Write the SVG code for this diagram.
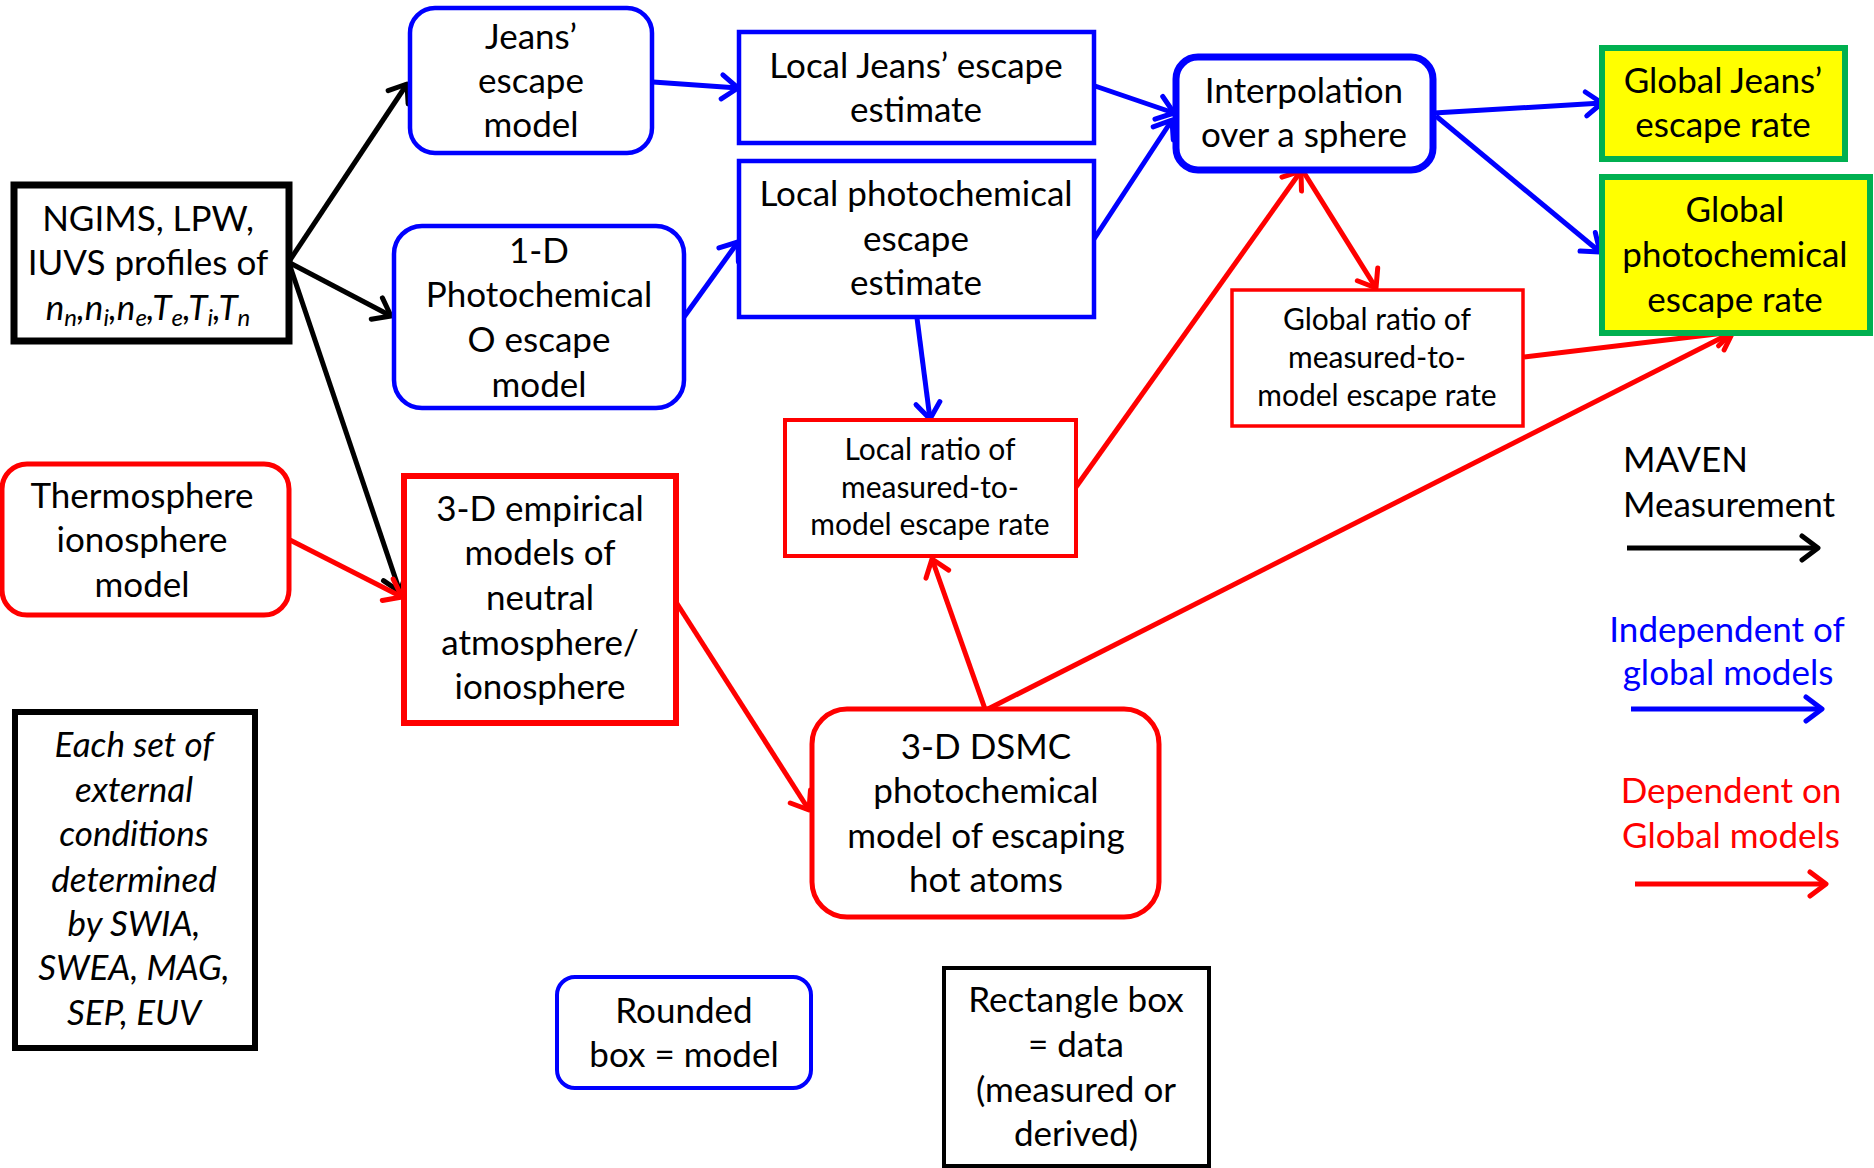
<svg xmlns="http://www.w3.org/2000/svg" width="1874" height="1168" viewBox="0 0 1874 1168">
  <style>
    .t { font-family: Lato, "Liberation Sans", sans-serif; font-size: 35px; text-anchor: middle; fill: #000; }
    .s { font-size: 30px; }
    .i { font-style: italic; }
    .sub { font-size: 24px; }
    .l { text-anchor: start; }
    .box { fill: #fff; }
    .blue { stroke: #0000FF; }
    .red { stroke: #FF0000; }
    .blk { stroke: #000; }
    .goal { fill: #FFFF00; stroke: #00B050; stroke-width: 6; }
    .c { fill: none; stroke-width: 5; }
    .cb { stroke: #000; marker-end: url(#ah-k); }
    .cu { stroke: #0000FF; marker-end: url(#ah-b); }
    .cr { stroke: #FF0000; marker-end: url(#ah-r); }
  </style>
  <defs>
    <marker id="ah-k" viewBox="-18 -16 22 32" refX="0" refY="0" markerWidth="22" markerHeight="32" markerUnits="userSpaceOnUse" orient="auto" overflow="visible">
      <path d="M-16,-12 L0,0 L-16,12" fill="none" stroke="#000" stroke-width="5" stroke-linecap="round" stroke-linejoin="round"/>
    </marker>
    <marker id="ah-b" viewBox="-18 -16 22 32" refX="0" refY="0" markerWidth="22" markerHeight="32" markerUnits="userSpaceOnUse" orient="auto" overflow="visible">
      <path d="M-16,-12 L0,0 L-16,12" fill="none" stroke="#0000FF" stroke-width="5" stroke-linecap="round" stroke-linejoin="round"/>
    </marker>
    <marker id="ah-r" viewBox="-18 -16 22 32" refX="0" refY="0" markerWidth="22" markerHeight="32" markerUnits="userSpaceOnUse" orient="auto" overflow="visible">
      <path d="M-16,-12 L0,0 L-16,12" fill="none" stroke="#FF0000" stroke-width="5" stroke-linecap="round" stroke-linejoin="round"/>
    </marker>
  </defs>

  <rect width="1874" height="1168" fill="#fff"/>

  <!-- connectors -->
  <g id="connectors" class="c">
    <!-- MAVEN measurements -->
    <line class="cb" x1="290" y1="260" x2="407" y2="84"/>
    <line class="cb" x1="290" y1="263" x2="391" y2="316"/>
    <line class="cb" x1="290" y1="266" x2="400" y2="592"/>
    <!-- independent of global models -->
    <line class="cu" x1="653" y1="82" x2="738" y2="88"/>
    <line class="cu" x1="684" y1="317" x2="738" y2="242"/>
    <line class="cu" x1="1095" y1="86" x2="1174" y2="113"/>
    <line class="cu" x1="1094" y1="239" x2="1172" y2="120"/>
    <line class="cu" x1="917" y1="318" x2="930" y2="419"/>
    <line class="cu" x1="1434" y1="113" x2="1602" y2="103"/>
    <line class="cu" x1="1436" y1="116" x2="1600" y2="252"/>
    <!-- dependent on global models -->
    <line class="cr" x1="290" y1="540" x2="402" y2="597"/>
    <line class="cr" x1="676" y1="602" x2="809" y2="810"/>
    <line class="cr" x1="985" y1="709" x2="932" y2="559"/>
    <line class="cr" x1="988" y1="709" x2="1733" y2="332"/>
    <line class="cr" x1="1076" y1="487" x2="1301" y2="171"/>
    <line class="cr" x1="1303" y1="171" x2="1376" y2="288"/>
    <line class="cr" x1="1524" y1="357" x2="1733" y2="332"/>
  </g>

  <g id="ngims">
    <rect class="box blk" x="14" y="185" width="275" height="156" stroke-width="7"/>
    <text class="t" x="148" y="231">NGIMS, LPW,</text>
    <text class="t" x="148" y="275">IUVS profiles of</text>
    <text class="t i" x="148" y="320">n<tspan class="sub" dy="6">n</tspan><tspan dy="-6">,n</tspan><tspan class="sub" dy="6">i</tspan><tspan dy="-6">,n</tspan><tspan class="sub" dy="6">e</tspan><tspan dy="-6">,T</tspan><tspan class="sub" dy="6">e</tspan><tspan dy="-6">,T</tspan><tspan class="sub" dy="6">i</tspan><tspan dy="-6">,T</tspan><tspan class="sub" dy="6">n</tspan></text>
  </g>

  <g id="jeans-model">
    <rect class="box blue" x="410" y="8" width="242" height="145" rx="25" stroke-width="4.5"/>
    <text class="t" x="531" y="49">Jeans’</text>
    <text class="t" x="531" y="93">escape</text>
    <text class="t" x="531" y="137">model</text>
  </g>

  <g id="photochem-1d">
    <rect class="box blue" x="394" y="226" width="290" height="182" rx="28" stroke-width="4.5"/>
    <text class="t" x="539" y="263">1-D</text>
    <text class="t" x="539" y="307">Photochemical</text>
    <text class="t" x="539" y="352">O escape</text>
    <text class="t" x="539" y="397">model</text>
  </g>

  <g id="thermosphere">
    <rect class="box red" x="2" y="464" width="287" height="151" rx="25" stroke-width="5"/>
    <text class="t" x="142" y="508">Thermosphere</text>
    <text class="t" x="142" y="552">ionosphere</text>
    <text class="t" x="142" y="597">model</text>
  </g>

  <g id="empirical-3d">
    <rect class="box red" x="404" y="476" width="272" height="247" stroke-width="6"/>
    <text class="t" x="540" y="521">3-D empirical</text>
    <text class="t" x="540" y="565">models of</text>
    <text class="t" x="540" y="610">neutral</text>
    <text class="t" x="540" y="655">atmosphere/</text>
    <text class="t" x="540" y="699">ionosphere</text>
  </g>

  <g id="local-jeans">
    <rect class="box blue" x="739" y="32" width="355" height="111" stroke-width="4.5"/>
    <text class="t" x="916" y="78">Local Jeans’ escape</text>
    <text class="t" x="916" y="122">estimate</text>
  </g>

  <g id="local-photochem">
    <rect class="box blue" x="739" y="161" width="355" height="156" stroke-width="4.5"/>
    <text class="t" x="916" y="206">Local photochemical</text>
    <text class="t" x="916" y="251">escape</text>
    <text class="t" x="916" y="295">estimate</text>
  </g>

  <g id="local-ratio">
    <rect class="box red" x="785" y="420" width="291" height="136" stroke-width="4"/>
    <text class="t s" x="930" y="460">Local ratio of</text>
    <text class="t s" x="930" y="498">measured-to-</text>
    <text class="t s" x="930" y="535">model escape rate</text>
  </g>

  <g id="dsmc">
    <rect class="box red" x="812" y="709" width="347" height="208" rx="35" stroke-width="5"/>
    <text class="t" x="986" y="759">3-D DSMC</text>
    <text class="t" x="986" y="803">photochemical</text>
    <text class="t" x="986" y="848">model of escaping</text>
    <text class="t" x="986" y="892">hot atoms</text>
  </g>

  <g id="interpolation">
    <rect class="box blue" x="1176" y="57" width="257" height="113" rx="22" stroke-width="7"/>
    <text class="t" x="1304" y="103">Interpolation</text>
    <text class="t" x="1304" y="147">over a sphere</text>
  </g>

  <g id="global-ratio">
    <rect class="box red" x="1232" y="290" width="291" height="136" stroke-width="3.5"/>
    <text class="t s" x="1377" y="330">Global ratio of</text>
    <text class="t s" x="1377" y="368">measured-to-</text>
    <text class="t s" x="1377" y="406">model escape rate</text>
  </g>

  <g id="global-jeans">
    <rect class="goal" x="1602" y="48" width="243" height="111"/>
    <text class="t" x="1723" y="93">Global Jeans’</text>
    <text class="t" x="1723" y="137">escape rate</text>
  </g>

  <g id="global-photochem">
    <rect class="goal" x="1602" y="177" width="268" height="156"/>
    <text class="t" x="1735" y="222">Global</text>
    <text class="t" x="1735" y="267">photochemical</text>
    <text class="t" x="1735" y="312">escape rate</text>
  </g>

  <g id="external-conditions">
    <rect class="box blk" x="15" y="712" width="240" height="336" stroke-width="6"/>
    <text class="t i" x="134" y="757">Each set of</text>
    <text class="t i" x="134" y="802">external</text>
    <text class="t i" x="134" y="846">conditions</text>
    <text class="t i" x="134" y="892">determined</text>
    <text class="t i" x="134" y="936">by SWIA,</text>
    <text class="t i" x="134" y="980">SWEA, MAG,</text>
    <text class="t i" x="134" y="1025">SEP, EUV</text>
  </g>

  <!-- key -->
  <g id="key-model">
    <rect class="box blue" x="557" y="977" width="254" height="111" rx="18" stroke-width="4"/>
    <text class="t" x="684" y="1023">Rounded</text>
    <text class="t" x="684" y="1067">box = model</text>
  </g>

  <g id="key-data">
    <rect class="box blk" x="944" y="968" width="265" height="198" stroke-width="4"/>
    <text class="t" x="1076" y="1012">Rectangle box</text>
    <text class="t" x="1076" y="1057">= data</text>
    <text class="t" x="1076" y="1102">(measured or</text>
    <text class="t" x="1076" y="1146">derived)</text>
  </g>

  <g id="key-arrows" class="c">
    <text class="t l" x="1623" y="472" stroke="none">MAVEN</text>
    <text class="t l" x="1623" y="517" stroke="none">Measurement</text>
    <line class="cb" x1="1627" y1="548" x2="1818" y2="548"/>
    <text class="t" x="1727" y="642" fill="#0000FF" stroke="none" style="fill:#0000FF">Independent of</text>
    <text class="t" x="1728" y="685" stroke="none" style="fill:#0000FF">global models</text>
    <line class="cu" x1="1631" y1="709" x2="1822" y2="709"/>
    <text class="t" x="1731" y="803" stroke="none" style="fill:#FF0000">Dependent on</text>
    <text class="t" x="1731" y="848" stroke="none" style="fill:#FF0000">Global models</text>
    <line class="cr" x1="1635" y1="884" x2="1826" y2="884"/>
  </g>
</svg>
